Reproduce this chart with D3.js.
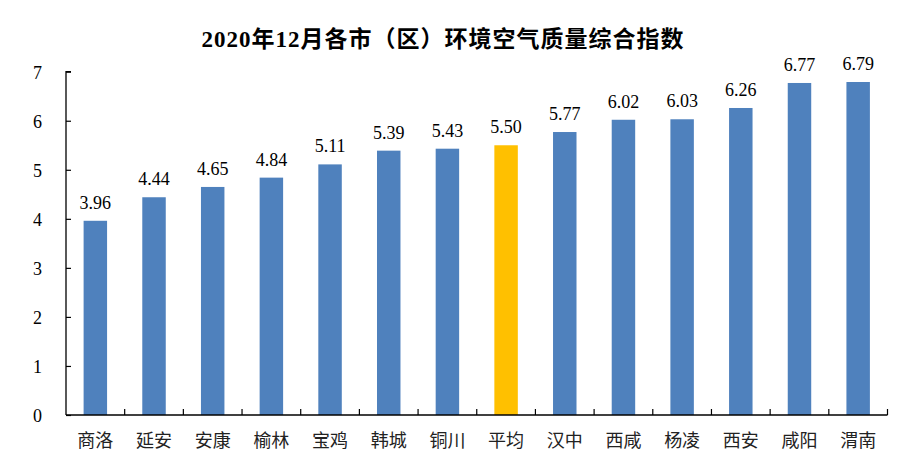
<!DOCTYPE html>
<html><head><meta charset="utf-8">
<script src="https://cdn.jsdelivr.net/npm/d3@7"></script>
<style>body{margin:0;background:#fff}</style>
</head><body>
<svg id="c" width="914" height="475"></svg>
<script>
const categories = ["商洛","延安","安康","榆林","宝鸡","韩城","铜川","平均","汉中","西咸","杨凌","西安","咸阳","渭南"];
const values = [3.96,4.44,4.65,4.84,5.11,5.39,5.43,5.50,5.77,6.02,6.03,6.26,6.77,6.79];
const yTicks = [0,1,2,3,4,5,6,7];
const highlight = "平均";
const title = "2020年12月各市（区）环境空气质量综合指数";

(function () {
const svg = d3.select("#c");
const mLeft = 66, mRight = 887.5, mTop = 71.7, mBottom = 415;
const x = d3.scaleBand().domain(categories).range([mLeft, mRight]).paddingInner(0.6).paddingOuter(0.3);
const xb = d3.scaleBand().domain(categories).range([mLeft, mRight]);
const y = d3.scaleLinear().domain([0, 7]).range([mBottom, mTop]);
const serif = "'Liberation Serif','Times New Roman','Noto Sans CJK SC',serif";

svg.append("text").attr("x", 443).attr("y", 47).attr("text-anchor", "middle")
  .attr("font-family", serif).attr("font-weight", "bold").attr("font-size", 23)
  .attr("letter-spacing", 1).attr("fill", "#000").text(title);

svg.selectAll("rect.bar").data(values).enter().append("rect")
  .attr("x", (d, i) => x(categories[i])).attr("width", x.bandwidth())
  .attr("y", d => y(d)).attr("height", d => y(0) - y(d))
  .attr("fill", (d, i) => categories[i] === highlight ? "#FFC000" : "#4F81BD");

svg.selectAll("text.val").data(values).enter().append("text")
  .attr("x", (d, i) => x(categories[i]) + x.bandwidth() / 2).attr("y", d => y(d) - 12)
  .attr("text-anchor", "middle").attr("font-family", serif).attr("font-size", 18).attr("fill", "#000")
  .text(d => d.toFixed(2));

const ya = svg.append("g").attr("transform", `translate(${mLeft},0)`)
  .call(d3.axisRight(y).tickValues(yTicks).tickSize(5).tickFormat(d3.format("d")));
ya.select(".domain").attr("d", `M5,${mTop}H0V${mBottom}`).attr("stroke", "#000").attr("stroke-width", 1.3);
ya.selectAll(".tick line").attr("stroke", "#000").attr("stroke-width", 1.2);
ya.selectAll(".tick text").attr("x", -24).attr("text-anchor", "end").attr("dy", "0.35em")
  .attr("font-family", serif).attr("font-size", 18).attr("fill", "#000");

const xa = svg.append("g").attr("transform", `translate(0,${mBottom})`)
  .call(d3.axisBottom(xb).tickSize(0).tickFormat(d => d));
xa.select(".domain").attr("d", `M${mLeft},0H${mRight}`).attr("stroke", "#000").attr("stroke-width", 1.5);
xa.selectAll(".tick text").attr("y", 26).attr("dy", "0.35em")
  .attr("font-family", "'Noto Sans CJK SC',serif").attr("font-size", 18).attr("fill", "#222");
const bounds = categories.map(c => xb(c) + xb.bandwidth());
svg.append("g").selectAll("line").data(bounds).enter().append("line")
  .attr("x1", d => d).attr("x2", d => d).attr("y1", mBottom).attr("y2", mBottom - 6)
  .attr("stroke", "#000").attr("stroke-width", 1.2);
})();
</script>
</body></html>
